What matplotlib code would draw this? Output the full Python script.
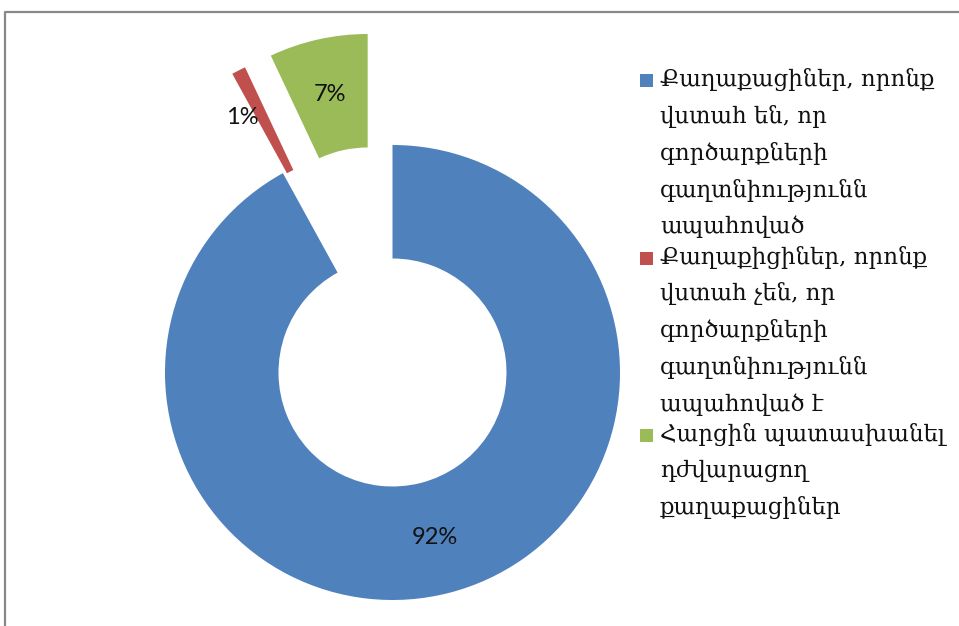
import matplotlib.pyplot as plt
from matplotlib.lines import Line2D
from matplotlib.patches import Rectangle

# տվյալներ
labels = [
    "Քաղաքացիներ, որոնք\nվստահ են, որ\nգործարքների\nգաղտնիությունն\nապահոված",
    "Քաղաքիցիներ, որոնք\nվստահ չեն, որ\nգործարքների\nգաղտնիությունն\nապահոված է",
    "Հարցին պատասխանել\nդժվարացող\nքաղաքացիներ",
]
shares = [92, 1, 7]
colors = ["#4F81BD", "#C0504D", "#9BBB59"]
explode = [0.0, 0.49, 0.5]

W, H = 959, 626
fig = plt.figure(figsize=(W / 100, H / 100), dpi=100)
ax = fig.add_axes([0, 0, 1, 1])

R = 227.5
wedges, texts, autotexts = ax.pie(
    shares, colors=colors, explode=[e * R for e in explode],
    startangle=90, counterclock=False,
    radius=R, center=(392.5, H - 372.5),
    wedgeprops=dict(width=113.5, linewidth=0),
    autopct="%d%%", pctdistance=0.75,
    textprops=dict(fontsize=17, family=["Lato", "DejaVu Sans"], color="#111111"),
    frame=True,
)
ax.set_xlim(0, W)
ax.set_ylim(0, H)
ax.axis("off")
# 1% - сбоку от сегмента
autotexts[1].set_position((242, H - 117))

# рамка
fig.add_artist(Line2D([5 / W, 5 / W, 1], [0, 1 - 12 / H, 1 - 12 / H],
                      transform=fig.transFigure, color="#888888", lw=1.6))

# легенда
fnt = ["DejaVu Serif", "DejaVu Sans"]
line_h = 36.5
gap = 31.5
y = 80
for lab, c in zip(labels, colors):
    fig.add_artist(Rectangle((640 / W, 1 - (y + 7) / H), 13 / W, 13 / H,
                             transform=fig.transFigure, color=c, lw=0))
    fig.text(660 / W, 1 - (y - 12) / H, lab, ha="left", va="top",
             fontsize=16.5, family=fnt, linespacing=1.77, color="#111111")
    y += line_h * lab.count("\n") + gap

fig.savefig("out.png", dpi=100)
